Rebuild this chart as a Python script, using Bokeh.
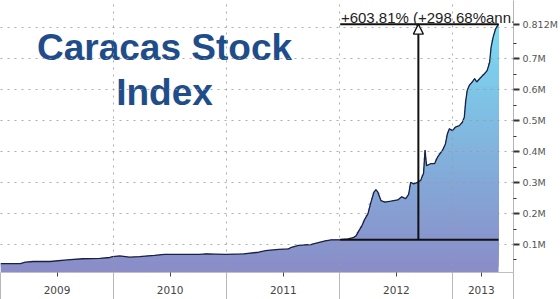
import numpy as np
from bokeh.plotting import figure
from bokeh.models import Range1d, FixedTicker, Label, Arrow, NormalHead
from bokeh.embed import file_html
from bokeh.resources import INLINE

# ---- data (decimal year, index value in millions) ----
dates = [2009.000, 2009.176, 2009.219, 2009.290, 2009.439, 2009.588, 2009.729, 2009.878,
         2009.966, 2009.992, 2010.054, 2010.141, 2010.229, 2010.361, 2010.449, 2010.580,
         2010.756, 2010.817, 2010.993, 2011.151, 2011.283, 2011.344, 2011.458, 2011.546,
         2011.572, 2011.634, 2011.695, 2011.748, 2011.809, 2011.871, 2011.924, 2012.003,
         2012.073, 2012.117, 2012.143, 2012.169, 2012.196, 2012.222, 2012.248, 2012.275,
         2012.301, 2012.319, 2012.336, 2012.363, 2012.398, 2012.450, 2012.512, 2012.547,
         2012.582, 2012.608, 2012.626, 2012.652, 2012.687, 2012.714, 2012.740, 2012.753,
         2012.766, 2012.802, 2012.837, 2012.863, 2012.907, 2012.933, 2012.951, 2012.968,
         2012.995, 2013.021, 2013.056, 2013.083, 2013.100, 2013.113, 2013.126, 2013.144,
         2013.170, 2013.192, 2013.210, 2013.241, 2013.276, 2013.302, 2013.324, 2013.337,
         2013.355, 2013.377, 2013.403]
values = [0.038, 0.038, 0.043, 0.045, 0.045, 0.050, 0.054, 0.055,
          0.058, 0.061, 0.063, 0.059, 0.061, 0.065, 0.068, 0.068,
          0.068, 0.070, 0.068, 0.070, 0.075, 0.080, 0.084, 0.086,
          0.091, 0.097, 0.099, 0.100, 0.106, 0.112, 0.115, 0.1154,
          0.118, 0.122, 0.128, 0.145, 0.161, 0.183, 0.199, 0.237,
          0.269, 0.277, 0.269, 0.242, 0.237, 0.240, 0.244, 0.254,
          0.248, 0.262, 0.301, 0.296, 0.301, 0.307, 0.330, 0.405,
          0.355, 0.361, 0.361, 0.382, 0.404, 0.425, 0.458, 0.474,
          0.468, 0.479, 0.484, 0.495, 0.511, 0.565, 0.598, 0.614,
          0.625, 0.636, 0.625, 0.638, 0.651, 0.662, 0.689, 0.738,
          0.770, 0.797, 0.812]

year_bounds = [2009, 2010, 2011, 2012, 2013]
year_label_pos = [2009.5, 2010.5, 2011.5, 2012.5, 2013.25]
year_labels = ["2009", "2010", "2011", "2012", "2013"]
y_ticks = [0.1, 0.2, 0.3, 0.4, 0.5, 0.6, 0.7, 0.812]
y_minor = [0.05, 0.15, 0.25, 0.35, 0.45, 0.55, 0.65, 0.75]
y_labels = ["0.1M", "0.2M", "0.3M", "0.4M", "0.5M", "0.6M", "0.7M", "0.812M"]
y_grid = [0.1, 0.2, 0.3, 0.4, 0.5, 0.6, 0.7, 0.8]

measure_x = [2012.003, 2013.403]
measure_start = 0.1154
measure_end = 0.812
measure_arrow_x = 2012.694
measure_text = "+603.81% (+298.68%ann."

X0, X1 = 2009.0, 2013.535
Y0, Y1 = 0.0095, 0.8884

p = figure(width=560, height=299, output_backend="svg", toolbar_location=None,
           x_range=Range1d(X0, X1), y_range=Range1d(Y0, Y1),
           y_axis_location="right",
           min_border_left=0, min_border_top=0, min_border_right=44, min_border_bottom=27)
p.outline_line_color = None
p.background_fill_color = "white"
p.border_fill_color = "white"

# ---- gradient area fill (stacked bands, each drawn up to the series) ----
xs = np.array(dates)
vs = np.array(values)
nb = 45
edges = np.linspace(Y0, 0.83, nb + 1)
c0 = np.array([138, 141, 200])
c1 = np.array([122, 220, 244])
for k in range(nb):
    lo = edges[k]
    t = k / (nb - 1)
    c = (c0 * (1 - t) + c1 * t).astype(int)
    col = "#%02x%02x%02x" % tuple(c)
    p.varea(x=xs, y1=np.full_like(vs, lo), y2=np.maximum(vs, lo), fill_color=col)

p.line(xs, vs, line_color="#1b2140", line_width=1.3)

# ---- grids ----
p.xgrid.ticker = FixedTicker(ticks=year_bounds)
p.ygrid.ticker = FixedTicker(ticks=y_grid)
for g in (p.xgrid, p.ygrid):
    g.grid_line_color = "#9a9a9a"
    g.grid_line_dash = "2 5"
    g.grid_line_width = 1
    g.grid_line_alpha = 0.8
    g.level = "overlay"

# ---- x axis: labels centred in each year, long separators at year bounds ----
xa = p.xaxis[0]
xa.ticker = FixedTicker(ticks=year_label_pos, minor_ticks=year_bounds + [X1])
xa.major_label_overrides = {t: l for t, l in zip(year_label_pos, year_labels)}
xa.major_label_text_font = "DejaVu Sans"
xa.major_label_text_font_size = "10.5px"
xa.major_label_text_color = "#444444"
xa.major_label_standoff = -14
xa.major_tick_out = 4
xa.major_tick_in = 0
xa.major_tick_line_color = "#444444"
xa.minor_tick_out = 27
xa.minor_tick_in = 0
xa.minor_tick_line_color = "#b8b8b8"
xa.axis_line_color = "#c0c0c0"

# ---- y axis ----
ya = p.yaxis[0]
ya.ticker = FixedTicker(ticks=y_ticks, minor_ticks=y_minor)
ya.major_label_overrides = {t: l for t, l in zip(y_ticks, y_labels)}
ya.major_label_text_font = "DejaVu Sans"
ya.major_label_text_font_size = "9.5px"
ya.major_label_text_color = "#555555"
ya.major_label_standoff = 3
ya.major_tick_out = 6
ya.major_tick_in = 0
ya.major_tick_line_width = 2
ya.major_tick_line_color = "#333333"
ya.minor_tick_out = 3
ya.minor_tick_in = 0
ya.minor_tick_line_color = "#333333"
ya.axis_line_color = "#b5b5b5"

# ---- measurement annotation ----
p.line(measure_x, [measure_start, measure_start], line_color="#111111", line_width=2)
p.line(measure_x, [measure_end, measure_end], line_color="#111111", line_width=2)
p.add_layout(Arrow(end=NormalHead(size=10, fill_color="white", line_color="#111111", line_width=1.3),
                   x_start=measure_arrow_x, y_start=measure_start,
                   x_end=measure_arrow_x, y_end=measure_end,
                   line_color="#111111", line_width=2))
p.add_layout(Label(x=measure_x[0] + 0.006, y=measure_end + 0.02, text=measure_text,
                   text_align="left", text_baseline="alphabetic",
                   text_font="Liberation Sans", text_font_size="15px", text_color="#222222"))

# ---- title ----
p.add_layout(Label(x=2010.45, y=0.7365, text="Caracas Stock", text_align="center",
                   text_baseline="alphabetic", text_font="Liberation Sans", text_font_style="bold",
                   text_font_size="37px", text_color="#1f4d8a"))
p.add_layout(Label(x=2010.45, y=0.591, text="Index", text_align="center",
                   text_baseline="alphabetic", text_font="Liberation Sans", text_font_style="bold",
                   text_font_size="37px", text_color="#1f4d8a"))

open("out.html", "w").write(file_html(p, INLINE))
